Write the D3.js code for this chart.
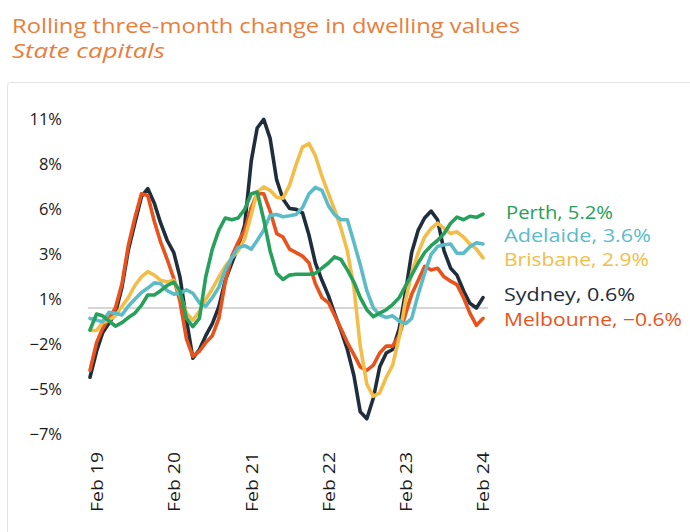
<!DOCTYPE html>
<html><head><meta charset="utf-8">
<script src="https://cdn.jsdelivr.net/npm/d3@7"></script>
<style>html,body{margin:0;padding:0;background:#fff;}svg{display:block;font-family:"Open Sans",sans-serif;}</style>
</head><body>
<svg id="chart" width="690" height="532"></svg>
<script>
const titleText = "Rolling three-month change in dwelling values";
const subtitleText = "State capitals";
const months = d3.timeMonth.range(new Date(2019,0,1), new Date(2024,2,1)); // Jan 2019 .. Feb 2024
const xTickDates = [new Date(2019,1,1),new Date(2020,1,1),new Date(2021,1,1),new Date(2022,1,1),new Date(2023,1,1),new Date(2024,1,1)];
const yTicks = [-7.28,-4.68,-2.08,0.52,3.12,5.72,8.32,10.92];

const sydney = [-4.0,-2.5,-1.45,-0.87,-0.3,1.2,3.35,4.9,6.43,6.9,6.05,4.9,3.9,3.2,1.8,-0.7,-2.9,-2.4,-1.6,-0.9,0.08,1.6,2.6,3.54,4.8,8.5,10.4,10.9,9.8,7.4,6.3,5.75,5.7,5.5,4.2,2.6,1.6,0.7,-0.3,-1.3,-2.4,-3.9,-6.0,-6.4,-5.2,-3.4,-2.6,-2.4,-1.2,1.0,3.2,4.5,5.2,5.6,5.1,3.3,2.3,1.9,1.0,0.27,0.0,0.6];
const melbourne = [-3.6,-2.0,-1.2,-0.6,0.0,1.4,3.6,5.2,6.6,6.5,5.0,3.8,2.8,1.7,0.4,-1.8,-2.8,-2.5,-2.0,-1.6,-0.6,1.5,3.0,3.8,4.5,5.8,6.6,6.6,5.6,4.3,4.1,3.4,3.2,3.0,2.6,1.4,0.6,0.3,-0.4,-1.2,-2.0,-2.7,-3.4,-3.6,-3.3,-2.6,-2.2,-2.2,-1.6,-0.3,0.8,1.6,2.4,2.2,2.3,1.8,1.55,1.35,0.6,-0.3,-1.0,-0.6];
const brisbane = [-1.3,-1.3,-0.85,-0.7,-0.45,0.1,0.6,1.3,1.8,2.1,1.9,1.6,1.5,1.6,0.8,-0.3,-0.7,-0.2,0.5,1.1,1.8,2.4,2.9,3.3,4.0,5.4,6.7,7.0,6.8,6.4,6.35,7.1,8.3,9.3,9.5,8.8,7.6,6.6,5.7,4.6,3.3,1.2,-2.2,-4.4,-5.1,-4.9,-4.0,-3.3,-1.7,0.5,2.0,3.2,4.1,4.6,4.9,4.6,4.3,4.4,4.1,3.7,3.4,2.9];
const adelaide = [-0.6,-0.7,-0.8,-0.25,-0.3,-0.4,0.1,0.5,0.9,1.15,1.45,1.4,1.0,0.8,0.85,1.05,0.85,0.3,0.1,0.6,1.2,2.2,2.9,3.5,3.6,3.4,3.9,4.5,5.35,5.4,5.27,5.33,5.4,5.8,6.6,6.97,6.8,5.9,5.4,5.1,5.1,3.8,2.5,1.0,0.0,-0.4,-0.55,-0.45,-0.75,-0.9,-0.6,0.8,2.0,3.1,3.55,3.65,3.7,3.16,3.16,3.54,3.77,3.7];
const perth = [-1.27,-0.35,-0.45,-0.75,-1.05,-0.85,-0.55,-0.3,0.15,0.75,0.75,1.0,1.3,1.5,1.0,-0.6,-1.08,-0.6,1.8,3.4,4.5,5.2,5.1,5.2,5.7,6.6,6.7,5.1,3.3,2.0,1.65,1.9,1.95,1.95,1.95,2.0,2.3,2.6,2.95,2.8,2.2,1.5,0.6,-0.1,-0.5,-0.3,-0.1,0.2,0.6,1.3,1.9,2.6,3.2,3.6,3.9,4.3,4.9,5.25,5.1,5.3,5.24,5.43];

const seriesNames = ["Sydney","Melbourne","Brisbane","Adelaide","Perth"];
const seriesValues = [sydney, melbourne, brisbane, adelaide, perth];
const seriesColors = ["#1f2e3d","#e8521c","#f2bd48","#5bbcc8","#26a05a"];
const labelTexts = ["Sydney, 0.6%","Melbourne, -0.6%","Brisbane, 2.9%","Adelaide, 3.6%","Perth, 5.2%"];

const svg = d3.select("#chart");
const orange = "#e97d3c";

// card border
svg.append("rect").attr("x",7.5).attr("y",82.5).attr("width",720).attr("height",500)
  .attr("rx",3).attr("fill","none").attr("stroke","#e4e4e4").attr("stroke-width",1);

function fit(sel, w){ sel.attr("textLength", w).attr("lengthAdjust","spacingAndGlyphs"); }

const t = svg.append("text").attr("x",12).attr("y",33).attr("fill",orange)
  .attr("font-size",19.5).text(titleText);
fit(t, 508);
const st = svg.append("text").attr("x",12).attr("y",58).attr("fill",orange)
  .attr("font-size",19.5).attr("font-style","italic").text(subtitleText);
fit(st, 153);

const x = d3.scaleTime().domain([months[0], months[months.length-1]]).range([90,483]);
const y = d3.scaleLinear().domain([-7.28,10.92]).range([434,119]);

// zero line
svg.append("line").attr("x1",88).attr("x2",488).attr("y1",y(0)).attr("y2",y(0))
  .attr("stroke","#d6d6d6").attr("stroke-width",2);

// y axis labels
const yAxis = d3.axisLeft(y).tickValues(yTicks).tickSize(0).tickPadding(0)
  .tickFormat(d => d3.format(".0f")(d) .replace("-","\u2212") + "%");
const gy = svg.append("g").attr("transform","translate(62,0)").call(yAxis);
gy.select(".domain").remove();
gy.selectAll("text").attr("font-size",16.5).attr("fill","#1a1a1a").attr("font-family","'Open Sans',sans-serif");

// x axis labels
const xAxis = d3.axisBottom(x).tickValues(xTickDates).tickSize(0).tickPadding(0)
  .tickFormat(d3.timeFormat("%b %y"));
const gx = svg.append("g").attr("transform","translate(0,452)").call(xAxis);
gx.select(".domain").remove();
gx.selectAll("text").attr("font-size",16.5).attr("fill","#1a1a1a").attr("font-family","'Open Sans',sans-serif")
  .attr("text-anchor","end").attr("transform","rotate(-90)").attr("x",0).attr("y",0).attr("dx",0).attr("dy","0.35em")
  .attr("textLength",60).attr("lengthAdjust","spacingAndGlyphs");

// lines
const line = d3.line().x((d,i)=>x(months[i])).y(d=>y(d));
seriesValues.forEach((vals,k)=>{
  svg.append("path").datum(vals).attr("d",line).attr("fill","none")
    .attr("stroke",seriesColors[k]).attr("stroke-width",3.6)
    .attr("stroke-linejoin","round").attr("stroke-linecap","round");
});

// end labels
const labelPos = [[504,295],[504,320],[504,259.5],[504,236],[506,213]];
const labelWidths = [131,178,145,147,107];
labelTexts.forEach((txt,k)=>{
  const lt = svg.append("text").attr("x",labelPos[k][0]).attr("y",labelPos[k][1]).attr("dy","0.35em")
    .attr("fill",seriesColors[k]).attr("font-size",17.5).attr("font-weight",500).text(txt.replace("-","\u2212"));
  fit(lt, labelWidths[k]);
});
</script>
</body></html>
